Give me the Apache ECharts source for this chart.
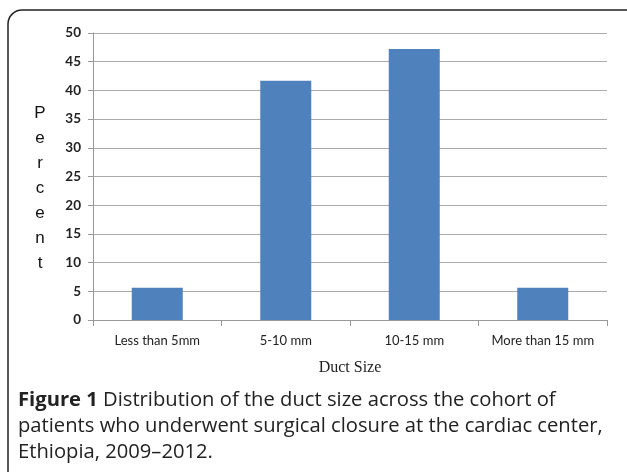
<!DOCTYPE html>
<html>
<head>
<meta charset="utf-8">
<script src="https://cdn.jsdelivr.net/npm/echarts@6/dist/echarts.min.js"></script>
<style>
html,body{margin:0;padding:0;background:#fff;}
#chart{width:627px;height:472px;}
</style>
</head>
<body>
<div id="chart"></div>
<script>
var categories = ['Less than 5mm', '5-10 mm', '10-15 mm', 'More than 15 mm'];
var percents = [5.6, 41.7, 47.2, 5.6];
var yTicks = {min: 0, max: 50, interval: 5};

var chart = echarts.init(document.getElementById('chart'));
chart.setOption({
	animation: false,
	grid: {left: 93, right: 20, top: 33, bottom: 152},
	xAxis: {
		type: 'category',
		data: categories,
		name: 'Duct Size',
		nameLocation: 'middle',
		nameGap: 40,
		nameTextStyle: {fontFamily: 'Liberation Serif', fontSize: 16, color: '#222'},
		axisLine: {lineStyle: {color: '#999'}},
		axisTick: {show: true, length: 6, lineStyle: {color: '#999'}},
		axisLabel: {interval: 0, fontFamily: 'Lato', fontSize: 13, color: '#222', margin: 14}
	},
	yAxis: {
		type: 'value',
		min: yTicks.min,
		max: yTicks.max,
		interval: yTicks.interval,
		axisLine: {show: true, lineStyle: {color: '#999'}},
		axisTick: {show: true, length: 5, lineStyle: {color: '#999'}},
		splitLine: {lineStyle: {color: '#aaa'}},
		axisLabel: {fontFamily: 'Lato', fontSize: 13.5, fontWeight: 'bold', color: '#222', margin: 12}
	},
	series: [{
		type: 'bar',
		data: percents,
		barWidth: 51,
		itemStyle: {color: '#4f81bd'}
	}],
	graphic: [
		{
			type: 'rect',
			shape: {x: 8, y: 10, width: 660, height: 500, r: 14},
			style: {fill: 'none', stroke: '#222', lineWidth: 1.5},
			silent: true
		},
		{
			type: 'text',
			x: 40,
			y: 188,
			style: {
				text: 'P\ne\nr\nc\ne\nn\nt',
				fontFamily: 'Liberation Sans',
				fontSize: 17,
				lineHeight: 25,
				fill: '#111',
				align: 'center',
				verticalAlign: 'middle'
			}
		},
		{
			type: 'text',
			left: 18,
			top: 387,
			style: {
				text: '{b|Figure 1} Distribution of the duct size across the cohort of\npatients who underwent surgical closure at the cardiac center,\nEthiopia, 2009\u20132012.',
				fontFamily: 'Open Sans',
				fontSize: 20.2,
				lineHeight: 26,
				fill: '#222',
				rich: {
					b: {fontFamily: 'Open Sans', fontSize: 20.2, fontWeight: 'bold', fill: '#222'}
				}
			}
		}
	]
});
</script>
</body>
</html>
